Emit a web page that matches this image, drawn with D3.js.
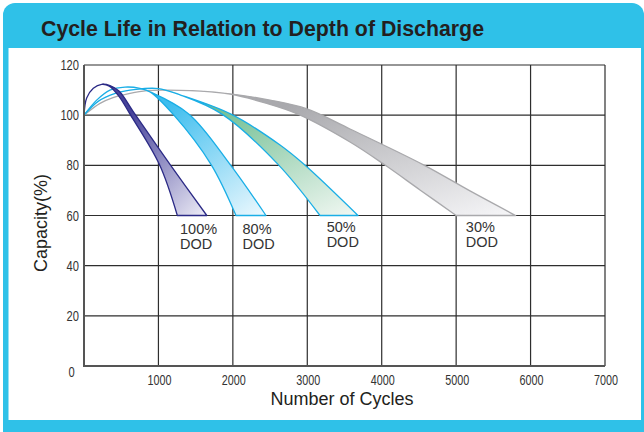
<!DOCTYPE html>
<html>
<head>
<meta charset="utf-8">
<script src="https://cdn.jsdelivr.net/npm/d3@7"></script>
<style>
  html, body { margin: 0; padding: 0; background: #fff; }
  svg { display: block; font-family: 'Liberation Sans', Arial, sans-serif; }
</style>
</head>
<body>
<div id="chart"></div>
<script>
// axis ticks
const xTicks = [1000, 2000, 3000, 4000, 5000, 6000, 7000]
const yTicks = [20, 40, 60, 80, 100, 120]

// [cycles, capacity %] - outer (longer life) and inner edge of each band
const dod30Outer = [[0, 100], [215, 104.7], [390, 107], [618, 108.7], [846, 109.8], [1088, 110], [1424, 109.8], [1962, 108.5], [2499, 106], [2996, 102.5], [3574, 94.5], [4568, 80.1], [5186, 69.8], [5800, 60]]
const dod30Inner = [[0, 100], [215, 104.7], [390, 107], [618, 108.7], [846, 109.8], [1088, 110], [1424, 109.8], [1962, 108.4], [2432, 104.9], [2875, 100.4], [3574, 89.3], [4044, 80.1], [4514, 70.2], [5000, 60]]

const dod50Outer = [[0, 100], [190, 105.5], [420, 108.7], [700, 110.3], [1000, 110.6], [1290, 108.1], [1975, 100.4], [2634, 88.1], [2956, 80.4], [3681, 60]]
const dod50Inner = [[0, 100], [190, 105.5], [420, 108.7], [700, 110.3], [1000, 110.6], [1290, 108.1], [1854, 100.4], [2607, 80.4], [3171, 60]]

const dod80Outer = [[0, 100], [170, 106], [349, 110], [551, 111.2], [752, 110.7], [887, 109.3], [1411, 100.4], [1962, 80.4], [2445, 60]]
const dod80Inner = [[0, 100], [170, 106], [349, 110], [551, 111.2], [752, 110.7], [887, 109.3], [1196, 100.4], [1706, 80.4], [2042, 60]]

const dod100Outer = [[0, 100], [36, 106.8], [125, 110.7], [238, 112.3], [349, 111.8], [470, 109.6], [685, 100.4], [1155, 80.4], [1650, 60]]
const dod100Inner = [[0, 100], [36, 106.8], [125, 110.7], [238, 112.3], [340, 111.6], [470, 107.5], [618, 100.4], [1012, 80.4], [1254, 60]]

const dodNames = ['30%', '50%', '80%', '100%']
const dodLabelCycles = [5130, 3260, 2130, 1290]

const width = 644
const height = 432
const margin = { top: 65, right: 39, bottom: 66, left: 84 }

const bands = [
  { name: '30%', outer: dod30Outer, inner: dod30Inner, stroke: '#a9a9ac', c0: '#a9a9ad', c1: '#f6f6f8' },
  { name: '50%', outer: dod50Outer, inner: dod50Inner, stroke: '#1aaee6', c0: '#6dbd90', c1: '#f2f8f3' },
  { name: '80%', outer: dod80Outer, inner: dod80Inner, stroke: '#1aaee6', c0: '#3dbdee', c1: '#eef9fe' },
  { name: '100%', outer: dod100Outer, inner: dod100Inner, stroke: '#2b2a86', c0: '#47439a', c1: '#eeedf7' }
]

const svg = d3.select('#chart')
  .append('svg')
  .attr('width', width)
  .attr('height', height)

// cyan frame with title bar
svg.append('rect')
  .attr('x', 3).attr('y', 3)
  .attr('width', 641).attr('height', 440)
  .attr('rx', 12)
  .attr('fill', '#2fc1e8')
svg.append('rect')
  .attr('x', 8.5).attr('y', 48)
  .attr('width', 632.5).attr('height', 372)
  .attr('fill', '#fff')
svg.append('text')
  .attr('x', 41).attr('y', 36)
  .attr('font-size', 21.2)
  .attr('font-weight', 'bold')
  .attr('fill', '#231f20')
  .attr('textLength', 443)
  .attr('lengthAdjust', 'spacingAndGlyphs')
  .text('Cycle Life in Relation to Depth of Discharge')

const x = d3.scaleLinear().domain([0, 7000]).range([margin.left, width - margin.right])
const y = d3.scaleLinear().domain([0, 120]).range([height - margin.bottom, margin.top])

// grid
svg.append('g')
  .selectAll('line')
  .data(yTicks)
  .enter()
  .append('line')
  .attr('x1', x(0)).attr('x2', x(7000))
  .attr('y1', d => y(d)).attr('y2', d => y(d))
  .attr('stroke', '#2e2e2e')
  .attr('stroke-width', 1.2)
svg.append('g')
  .selectAll('line')
  .data(xTicks)
  .enter()
  .append('line')
  .attr('x1', d => x(d)).attr('x2', d => x(d))
  .attr('y1', y(0)).attr('y2', y(120))
  .attr('stroke', '#2e2e2e')
  .attr('stroke-width', 1.2)

// bands
const defs = svg.append('defs')
bands.forEach((b, i) => {
  const g = defs.append('linearGradient')
    .attr('id', 'grad' + i)
    .attr('x1', 0).attr('y1', 0)
    .attr('x2', 1).attr('y2', 1)
  g.append('stop').attr('offset', '30%').attr('stop-color', b.c0)
  g.append('stop').attr('offset', '100%').attr('stop-color', b.c1)
})

const line = d3.line()
  .x(d => x(d[0]))
  .y(d => y(d[1]))
  .curve(d3.curveCatmullRom.alpha(0.5))

function bandPath (outer, inner) {
  const back = line(inner.slice().reverse())
  return line(outer) + 'L' + back.slice(1) + 'Z'
}

svg.append('g')
  .selectAll('path')
  .data(bands)
  .enter()
  .append('path')
  .attr('d', d => bandPath(d.outer, d.inner))
  .attr('fill', (d, i) => `url(#grad${i})`)
  .attr('stroke', d => d.stroke)
  .attr('stroke-width', 1.3)
  .attr('stroke-linejoin', 'round')

// axis lines
svg.append('line')
  .attr('x1', x(0)).attr('x2', x(0))
  .attr('y1', y(0) + 1).attr('y2', y(120))
  .attr('stroke', '#555')
  .attr('stroke-width', 2)
svg.append('line')
  .attr('x1', x(0)).attr('x2', x(7000))
  .attr('y1', y(0)).attr('y2', y(0))
  .attr('stroke', '#555')
  .attr('stroke-width', 2)

// tick labels
svg.append('g')
  .selectAll('text')
  .data(xTicks)
  .enter()
  .append('text')
  .attr('x', d => x(d) + 1)
  .attr('y', y(0) + 19)
  .attr('text-anchor', 'middle')
  .attr('font-size', 14.5)
  .attr('textLength', 24)
  .attr('lengthAdjust', 'spacingAndGlyphs')
  .attr('fill', '#333')
  .text(d => d)
svg.append('g')
  .selectAll('text')
  .data(yTicks)
  .enter()
  .append('text')
  .attr('x', x(0) - 5)
  .attr('y', d => y(d) + 5)
  .attr('text-anchor', 'end')
  .attr('font-size', 14.5)
  .attr('textLength', d => String(d).length * 6.2)
  .attr('lengthAdjust', 'spacingAndGlyphs')
  .attr('fill', '#333')
  .text(d => d)
svg.append('text')
  .attr('x', 71.5).attr('y', y(0) + 11)
  .attr('text-anchor', 'middle')
  .attr('font-size', 14.5)
  .attr('textLength', 6.2)
  .attr('lengthAdjust', 'spacingAndGlyphs')
  .attr('fill', '#333')
  .text('0')

// axis titles
svg.append('text')
  .attr('x', 342).attr('y', 405)
  .attr('text-anchor', 'middle')
  .attr('font-size', 18)
  .attr('fill', '#231f20')
  .text('Number of Cycles')
svg.append('text')
  .attr('transform', 'translate(47,223) rotate(-90)')
  .attr('text-anchor', 'middle')
  .attr('font-size', 18)
  .attr('fill', '#231f20')
  .text('Capacity(%)')

// DOD labels
const labels = svg.append('g')
  .selectAll('text')
  .data(dodNames)
  .enter()
  .append('text')
  .attr('x', (d, i) => x(dodLabelCycles[i]))
  .attr('y', d => d === '100%' || d === '80%' ? y(60) + 18 : y(60) + 16)
  .attr('font-size', 14.5)
  .attr('fill', '#333')
labels.append('tspan').text(d => d)
labels.append('tspan')
  .attr('x', (d, i) => x(dodLabelCycles[i]))
  .attr('dy', 15)
  .text('DOD')
</script>
</body>
</html>
